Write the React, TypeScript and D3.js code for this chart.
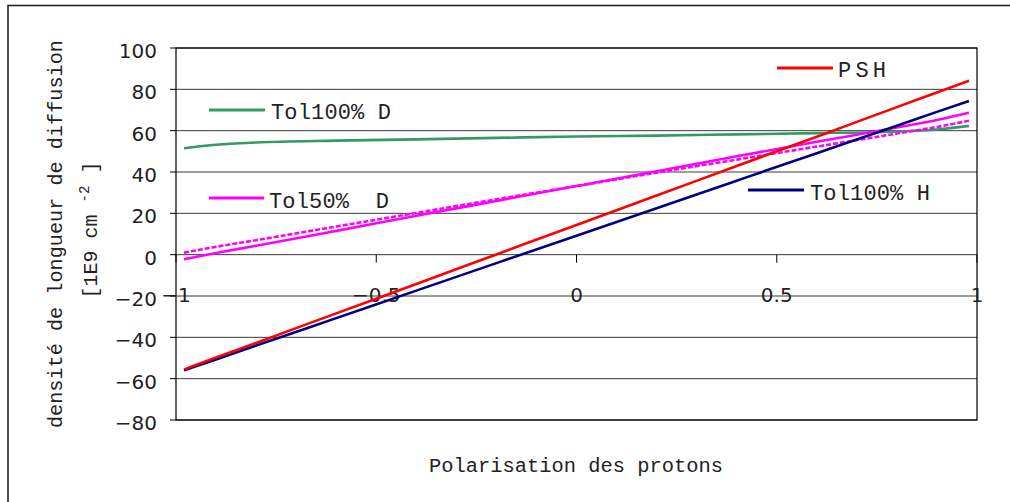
import React from "react";
import * as d3 from "d3";

const polarisation = [-0.98, -0.9, -0.8, -0.6, -0.4, -0.2, 0, 0.2, 0.4, 0.6, 0.8, 0.9, 0.98];
const psh = [-55.5, -49.8, -42.7, -28.4, -14.2, 0.1, 14.4, 28.6, 42.9, 57.1, 71.4, 78.5, 84.2];
const tol100H = [-56.0, -50.7, -44.0, -30.7, -17.4, -4.1, 9.2, 22.5, 35.8, 49.1, 62.4, 69.1, 74.4];
const tol100D = [51.5, 53.2, 54.3, 55.2, 55.8, 56.5, 57.2, 57.6, 58.2, 58.8, 59.6, 60.6, 62.3];
const tol50D = [-2.2, 0.8, 4.3, 11.5, 18.8, 26.0, 33.2, 40.4, 47.6, 54.6, 61.5, 65.2, 68.7];
const tol50DDashed = [1.0, 3.8, 7.0, 13.6, 20.2, 26.8, 33.2, 39.7, 46.0, 52.3, 58.6, 61.8, 64.8];

const yTicks = [100, 80, 60, 40, 20, 0, -20, -40, -60, -80];
const xTicks = [-1, -0.5, 0, 0.5, 1];
const xTickLabels = ["-1", "-0.5", "0", "0.5", "1"];

const series = [
  { name: "Tol100% D", values: tol100D, color: "#339966", dash: null },
  { name: "", values: tol50DDashed, color: "#ff00ff", dash: "5,2" },
  { name: "Tol50%  D", values: tol50D, color: "#ff00ff", dash: null },
  { name: "Tol100% H", values: tol100H, color: "#000080", dash: null },
  { name: "PSH", values: psh, color: "#ff0000", dash: null },
];

const legendItems = [
  { label: "PSH", color: "#ff0000", x1: 777, x2: 833, ly: 68, tx: 838, ty: 77, len: 48 },
  { label: "Tol100% D", color: "#339966", x1: 209, x2: 265, ly: 110, tx: 271, ty: 119, len: 120 },
  { label: "Tol50%  D", color: "#ff00ff", x1: 209, x2: 264, ly: 198, tx: 269, ty: 208, len: 120 },
  { label: "Tol100% H", color: "#000080", x1: 748, x2: 804, ly: 190, tx: 810, ty: 200, len: 120 },
];

const MONO = "'Liberation Mono', 'DejaVu Sans Mono', monospace";
const SANS = "'DejaVu Sans', sans-serif";

export default function App() {
  const left = 176, right = 977, top = 48, bottom = 420;
  const x = d3.scaleLinear().domain([-1, 1]).range([left, right]);
  const y = d3.scaleLinear().domain([-80, 100]).range([bottom, top]);
  const line = d3
    .line<[number, number]>()
    .x((d) => x(d[0]))
    .y((d) => y(d[1]))
    .curve(d3.curveMonotoneX);
  const y0 = y(0);

  return (
    <svg
      width={1010}
      height={502}
      style={{ position: "absolute", left: 0, top: 0, background: "#fff" }}
    >
      <rect x={0} y={0} width={1010} height={502} fill="#fff" />
      <rect x={8} y={5.5} width={1010} height={510} fill="none" stroke="#222" strokeWidth={1.6} />

      {/* gridlines */}
      {yTicks.map((t) => (
        <line key={"g" + t} x1={left} x2={right} y1={y(t)} y2={y(t)} stroke="#3a3a3a" strokeWidth={1} />
      ))}
      {/* plot border */}
      <rect x={left} y={top} width={right - left} height={bottom - top} fill="none" stroke="#000" strokeWidth={1.2} />

      {/* y ticks and labels */}
      {yTicks.map((t) => (
        <g key={"yt" + t}>
          <line x1={left - 6} x2={left} y1={y(t)} y2={y(t)} stroke="#000" strokeWidth={1} />
          <text
            x={157}
            y={y(t) + 10}
            textAnchor="end"
            fontFamily={SANS}
            fontSize={20}
            fill="#222"
          >
            {t < 0 ? "\u2212" + Math.abs(t) : String(t)}
          </text>
        </g>
      ))}

      {/* x ticks and labels on zero line */}
      {xTicks.map((t, i) => (
        <g key={"xt" + t}>
          <line x1={x(t)} x2={x(t)} y1={y0} y2={y0 + 8} stroke="#000" strokeWidth={1} />
          <text
            x={x(t)}
            y={y0 + 47}
            textAnchor="middle"
            fontFamily={SANS}
            fontSize={20}
            fill="#222"
          >
            {xTickLabels[i].replace("-", "\u2212")}
          </text>
        </g>
      ))}

      {/* series */}
      {series.map((s, i) => (
        <path
          key={"s" + i}
          d={line(polarisation.map((p, j) => [p, s.values[j]] as [number, number])) || ""}
          fill="none"
          stroke={s.color}
          strokeWidth={2.6}
          strokeDasharray={s.dash || undefined}
        />
      ))}

      {/* legend items */}
      {legendItems.map((l) => (
        <g key={"l" + l.label}>
          <line x1={l.x1} x2={l.x2} y1={l.ly} y2={l.ly} stroke={l.color} strokeWidth={3} />
          <text
            x={l.tx}
            y={l.ty}
            fontFamily={MONO}
            fontSize={22}
            fill="#222"
            textLength={l.len}
            lengthAdjust="spacing"
            style={{ whiteSpace: "pre" }}
          >
            {l.label}
          </text>
        </g>
      ))}

      {/* axis titles */}
      <text
        x={576}
        y={472}
        textAnchor="middle"
        fontFamily={MONO}
        fontSize={20}
        fill="#222"
        textLength={294}
        lengthAdjust="spacingAndGlyphs"
      >
        Polarisation des protons
      </text>
      <text
        transform="translate(62,234) rotate(-90)"
        textAnchor="middle"
        fontFamily={MONO}
        fontSize={21}
        fill="#222"
        textLength={388}
        lengthAdjust="spacingAndGlyphs"
      >
        densité de longueur de diffusion
      </text>
      <text
        transform="translate(97,230) rotate(-90)"
        textAnchor="middle"
        fontFamily={MONO}
        fontSize={20}
        fill="#222"
        style={{ whiteSpace: "pre" }}
      >
        <tspan>[1E9 cm </tspan>
        <tspan dy={-8} fontSize={14}>-2</tspan>
        <tspan dy={8}> ]</tspan>
      </text>
    </svg>
  );
}
